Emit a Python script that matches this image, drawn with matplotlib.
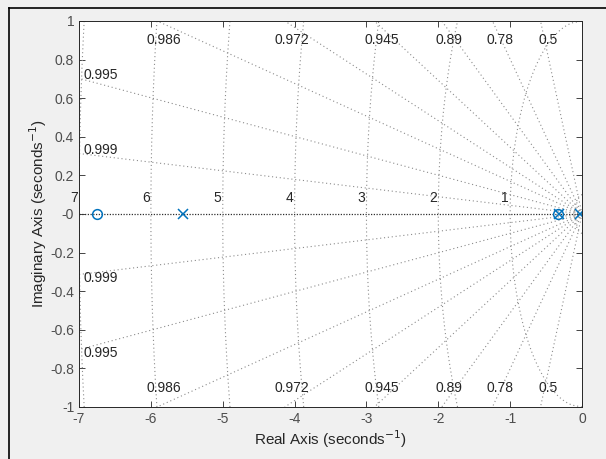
import numpy as np
import matplotlib
matplotlib.use("Agg")
from matplotlib import pyplot as plt
from matplotlib.lines import Line2D

# pole / zero locations
zeros_re = [-6.75, -0.33]
poles_re = [-5.55, -0.32, -0.03]

# damping ratios and natural frequencies of the s-plane grid
zeta = [0.5, 0.78, 0.89, 0.945, 0.972, 0.986, 0.995, 0.999]
wn = [1, 2, 3, 4, 5, 6, 7]
wn_small = [0.1]

xlim = (-7, 0)
ylim = (-1, 1)
gridc = "#8c8c8c"
txtc = "#262626"
blue = "#0072BD"

plt.rcParams['font.family'] = ['Liberation Sans', 'DejaVu Sans']
plt.rcParams['axes.unicode_minus'] = False
fig = plt.figure(figsize=(6.06, 4.59), dpi=100, facecolor="#f0f0f0")
ax = fig.add_axes([0.1304, 0.1133, 0.830, 0.841])

# damping lines
for z in zeta:
    slope = np.sqrt(1 - z**2) / z
    x_end = max(xlim[0], -ylim[1] / slope)
    y_end = -slope * x_end
    for s in (1, -1):
        ax.plot([0, x_end], [0, s * y_end], ls=(0, (1, 2.5)), lw=0.8, color=gridc)
    if x_end > xlim[0]:
        ax.text(x_end + 0.1, 0.90, f"{z:g}", ha="center", va="center", fontsize=10, color=txtc)
        ax.text(x_end + 0.1, -0.90, f"{z:g}", ha="center", va="center", fontsize=10, color=txtc)
    else:
        ax.text(xlim[0] + 0.06, y_end + 0.02, f"{z:g}", ha="left", va="center", fontsize=10, color=txtc)
        ax.text(xlim[0] + 0.06, -y_end - 0.02, f"{z:g}", ha="left", va="center", fontsize=10, color=txtc)

# zeta = 1 line along the real axis
ax.plot([xlim[0], 0], [0, 0], ls=(0, (1, 1.2)), lw=0.9, color="#303030")

# natural frequency arcs
for w in wn + wn_small:
    y = np.linspace(-min(w, 1), min(w, 1), 200)
    x = -np.sqrt(w**2 - y**2)
    ax.plot(x, y, ls=(0, (1, 2.5)), lw=0.8, color=gridc)
for w in wn:
    ax.text(-w - 0.07, 0.085, str(w), ha="center", va="center", fontsize=10, color=txtc)

# poles and zeros
ax.plot(zeros_re, np.zeros(len(zeros_re)), "o", ms=7, mfc="none", mec=blue, mew=1.1, ls="none")
ax.plot(poles_re, np.zeros(len(poles_re)), "x", ms=7, color=blue, mew=1.1, ls="none")

ax.set_xlim(*xlim)
ax.set_ylim(*ylim)
ax.set_xticks(np.arange(-7, 1, 1))
ax.set_yticks(np.round(np.arange(-1, 1.01, 0.2), 1))
ax.set_yticklabels([f"{v:g}" for v in np.round(np.arange(-1, 1.01, 0.2), 1)])
ax.tick_params(direction="in", top=True, right=True, length=4, width=0.6,
               colors=txtc, labelsize=10, labelcolor="#4d4d4d")
for sp in ax.spines.values():
    sp.set_color(txtc)
    sp.set_linewidth(0.7)

ax.set_xlabel("Real Axis (seconds$^{-1}$)", fontsize=11, color=txtc, labelpad=2)
ax.set_ylabel("Imaginary Axis (seconds$^{-1}$)", fontsize=11, color=txtc, labelpad=1)

# window frame lines on the top and left
fig.add_artist(Line2D([9 / 606, 9 / 606], [0, 1 - 8 / 459], color="black", lw=1.2))
fig.add_artist(Line2D([9 / 606, 1], [1 - 8 / 459, 1 - 8 / 459], color="black", lw=1.2))

fig.savefig("out.png", dpi=100, facecolor=fig.get_facecolor())
